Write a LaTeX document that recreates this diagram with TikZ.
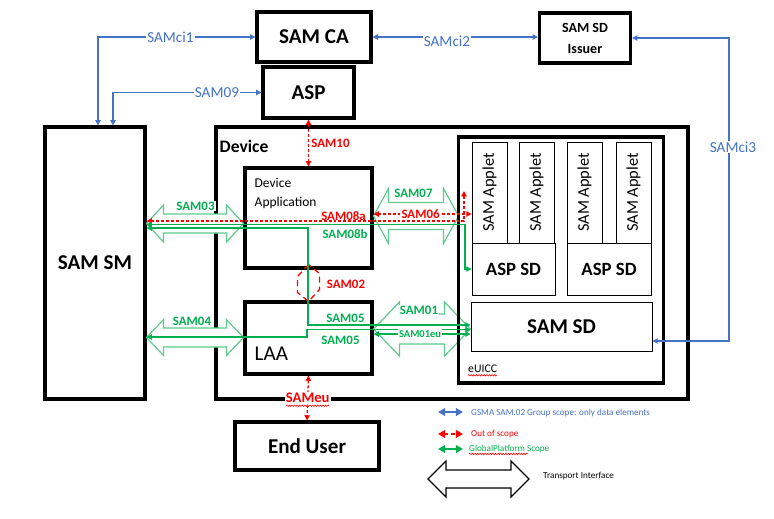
\documentclass[tikz,border=0pt]{standalone}
\usepackage{fontspec}
\usepackage{graphicx}
\setmainfont{Carlito}
\usetikzlibrary{arrows.meta,calc,decorations.pathmorphing}

\definecolor{gsmablue}{HTML}{4472C4}
\definecolor{oosred}{HTML}{FF0000}
\definecolor{gpgreen}{HTML}{00B050}
\definecolor{trgreen}{HTML}{5DCB8D}

\newcommand{\transport}[6][trgreen]{\draw[transport,draw=#1] (#2) -- ($(#2)+(#4,-#5)$) -- ($(#2)+(#4,-#6)$) -- ($(#3)+(-#4,-#6)$) -- ($(#3)+(-#4,-#5)$) -- (#3) -- ($(#3)+(-#4,#5)$) -- ($(#3)+(-#4,#6)$) -- ($(#2)+(#4,#6)$) -- ($(#2)+(#4,#5)$) -- cycle;}

\begin{document}
\begin{tikzpicture}[x=0.03cm,y=-0.03cm,>={Triangle[length=4.5pt,width=4.5pt]},
 box/.style={draw,line width=2.6pt,inner sep=0pt,align=center,font=\bfseries\fontsize{18}{21}\selectfont},
 part/.style={draw,line width=0.8pt,inner sep=0pt,align=center},
 applet/.style={part,sz={35}{101},font=\fontsize{14}{16}\selectfont},
 sz/.style 2 args={minimum width=#1*0.03cm,minimum height=#2*0.03cm},
 ci/.style={draw=gsmablue,line width=0.9pt,<->},
 oos/.style={draw=oosred,line width=1.1pt,dash pattern=on 2.5pt off 1.7pt,<->},
 gp/.style={draw=gpgreen,line width=1.1pt,<->},
 transport/.style={line width=1pt,fill=white},
 cilbl/.style={text=gsmablue,fill=white,inner sep=1pt,font=\fontsize{13}{15}\selectfont},
 ooslbl/.style={text=oosred,inner sep=1pt,font=\bfseries\fontsize{11}{13}\selectfont},
 gplbl/.style={text=gpgreen,inner sep=1pt,font=\bfseries\fontsize{11}{13}\selectfont},
 lgtxt/.style={anchor=west,inner sep=0pt,font=\fontsize{7.8}{9}\selectfont},
 lgarrow/.style={line width=1.4pt,{Triangle[length=6pt,width=6.5pt]}-{Triangle[length=6pt,width=6.5pt]}},
 spell/.style={draw=oosred,line width=0.5pt,decorate,decoration={snake,amplitude=0.6pt,segment length=2.2pt}}]
\useasboundingbox (0,0) rectangle (774,518);

\node[box,sz={114}{50}] (samca) at (314,37) {SAM CA};
\node[box,sz={91}{51}] (asp) at (308.5,92.5) {ASP};
\node[box,sz={91}{50},font=\bfseries\fontsize{12}{18}\selectfont] (issuer) at (585,38) {SAM SD\\Issuer};
\node[box,sz={100}{272}] (samsm) at (95,263) {SAM SM};
\node[box,sz={472}{272}] (device) at (452,263) {};
\node[anchor=west,inner sep=0pt,font=\bfseries\fontsize{15}{18}\selectfont] (devlbl) at ($(device.north west)+(5,21)$) {Device};
\node[box,sz={127}{100}] (devapp) at (308.5,218) {};
\node[anchor=west,inner sep=0pt,align=left,font=\fontsize{11.5}{17}\selectfont] (devtxt) at ($(devapp.north west)+(11,27)$) {Device\\Application};
\node[box,sz={127}{72}] (laa) at (308.5,338) {};
\node[anchor=west,inner sep=0pt,font=\fontsize{18}{21}\selectfont] (laatxt) at ($(laa.north west)+(11,53)$) {LAA};
\node[box,sz={144}{48}] (enduser) at (307,446) {End User};

\coordinate (t03a) at (samsm.east |- 0,223.5);
\coordinate (t03b) at (devapp.west |- 0,223.5);
\coordinate (t04a) at (samsm.east |- 0,337.5);
\coordinate (t04b) at (laa.west |- 0,337.5);
\coordinate (t07a) at (devapp.east |- 0,216);
\coordinate (t07b) at ($(t07a)+(85,0)$);
\coordinate (t01a) at (laa.east |- 0,329);
\coordinate (t01b) at ($(t01a)+(97,0)$);
\transport{t03a}{t03b}{17}{18.5}{9.5}
\transport{t04a}{t04b}{17}{18}{9.5}
\transport{t07a}{t07b}{15}{27.5}{13.5}
\transport{t01a}{t01b}{26}{27}{15}

\node[box,sz={205}{246}] (euicc) at (561,260) {};
\node[anchor=west,inner sep=0pt,font=\fontsize{10}{12}\selectfont] (eutxt) at ($(euicc.south west)+(11,-16)$) {eUICC};
\node[applet] (app1) at (489.5,192.5) {\rotatebox{90}{SAM Applet}};
\node[applet] (app2) at (536.5,192.5) {\rotatebox{90}{SAM Applet}};
\node[applet] (app3) at (584.5,192.5) {\rotatebox{90}{SAM Applet}};
\node[applet] (app4) at (633.5,192.5) {\rotatebox{90}{SAM Applet}};
\node[part,sz={83}{52},font=\bfseries\fontsize{16}{19}\selectfont] (aspsd1) at (513.5,269) {ASP SD};
\node[part,sz={84}{52},font=\bfseries\fontsize{16}{19}\selectfont] (aspsd2) at (609,269) {ASP SD};
\node[part,sz={181}{49},font=\bfseries\fontsize{18}{21}\selectfont] (samsd) at (561.5,326.5) {SAM SD};

\draw[ci] (samsm.north -| 98,0) |- (samca.west) node[cilbl,pos=0.73] (lci1) {SAMci1};
\draw[ci] (samsm.north -| 113,0) |- (asp.west) node[cilbl,pos=0.85] (l09) {SAM09};
\draw[ci] (samca.east) -- (samca.east -| issuer.west) node[cilbl,pos=0.45,yshift=-4pt] (lci2) {SAMci2};
\draw[ci] (issuer.east) -| (729,341) -- (samsd.east |- 0,341);
\node[cilbl] (lci3) at (733,147) {SAMci3};

\draw[oos] (asp.south) -- (devapp.north);
\node[ooslbl] (l10) at (330.5,143) {SAM10};
\draw[oos] (samsm.east |- 0,221) -- (464,221) -- (464,191);
\node[ooslbl] (l08a) at (343.5,216) {SAM08a};
\draw[oos] (devapp.east |- 0,214) -- (app1.west |- 0,214) node[ooslbl,fill=white,pos=0.48] (l06) {SAM06};
\draw[oos,-,dash pattern=on 5pt off 3.5pt] ($(devapp.south)+(0,-5)$) -- ++(-11,12) -- ++(0,16) -- ($(laa.north)+(0,1)$) -- ++(11,-12) -- ++(0,-16) -- cycle;
\node[ooslbl] (l02) at (346,284) {SAM02};
\draw[oos] (laa.south) -- (enduser.north) node[ooslbl,fill=white,pos=0.5,font=\bfseries\fontsize{12.5}{14}\selectfont] (leu) {SAMeu};
\draw[spell] ($(leu.base west)+(2,3)$) -- ($(leu.base east)+(-2,3)$);
\draw[spell] ($(eutxt.base west)+(0,3)$) -- ($(eutxt.base east)+(0,3)$);

\draw[gp] (samsm.east |- 0,224.5) -- (465,224.5) |- (aspsd1.west);
\draw[gp] (samsm.east |- 0,228) -- (308,228) |- (samsd.west |- 0,325);
\draw[gp] (samsm.east |- 0,337) -- (307,337) -- (307,329.5) -- (samsd.west |- 0,329.5);
\draw[gp] (laa.east |- 0,334) -- (samsd.west |- 0,334) node[gplbl,fill=white,pos=0.48,font=\bfseries\fontsize{9}{10}\selectfont] (l01eu) {SAM01eu};
\node[gplbl,fill=white] (l03) at (195.5,206) {SAM03};
\node[gplbl,fill=white] (l04) at (192,321) {SAM04};
\node[gplbl,fill=white] (l07) at (413.5,193) {SAM07};
\node[gplbl] (l08b) at (345,234) {SAM08b};
\node[gplbl] (l05a) at (345.5,318) {SAM05};
\node[gplbl] (l05b) at (340.5,340) {SAM05};
\node[gplbl,fill=white] (l01) at (419,310) {SAM01};

\coordinate (lg1a) at (438,412);
\coordinate (lg1b) at (463,412);
\draw[lgarrow,gsmablue] (lg1a) -- (lg1b);
\node[lgtxt,text=gsmablue] (lgt1) at (471,413) {GSMA SAM.02 Group scope: only data elements};
\coordinate (lg2a) at (438,434);
\coordinate (lg2b) at (463,434);
\draw[lgarrow,oosred,dash pattern=on 3pt off 2.5pt] (lg2a) -- (lg2b);
\node[lgtxt,text=oosred] (lgt2) at (471,434) {Out of scope};
\coordinate (lg3a) at (438,449);
\coordinate (lg3b) at (463,449);
\draw[lgarrow,gpgreen] (lg3a) -- (lg3b);
\node[lgtxt,text=gpgreen] (lgt3) at (469,449) {GlobalPlatform Scope};
\draw[spell] ($(lgt3.base west)+(0,2.5)$) -- ++(59,0);
\coordinate (lg4a) at (428,479);
\coordinate (lg4b) at (529,479);
\transport[black]{lg4a}{lg4b}{18}{18}{9}
\node[lgtxt] (lgt4) at (543,476) {Transport Interface};
\end{tikzpicture}
\end{document}
